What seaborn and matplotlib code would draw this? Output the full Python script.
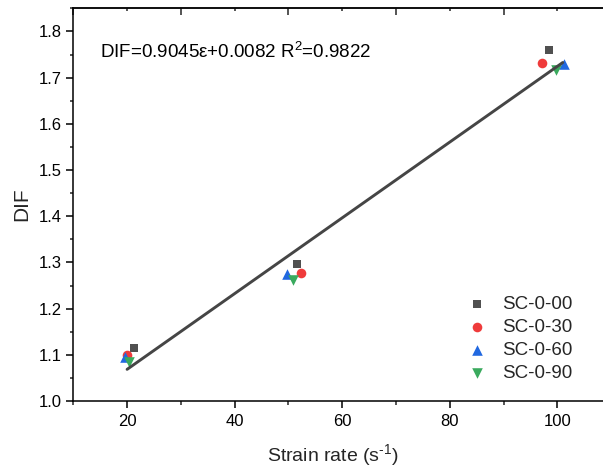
import matplotlib
matplotlib.use("Agg")
import matplotlib.pyplot as plt
from matplotlib.ticker import MultipleLocator
import seaborn as sns
import pandas as pd
import numpy as np

# ---- data ----
series_names = ["SC-0-00", "SC-0-30", "SC-0-60", "SC-0-90"]
x_sc000 = [21.3, 51.6, 98.4]
y_sc000 = [1.114, 1.297, 1.760]
x_sc030 = [20.0, 52.4, 97.2]
y_sc030 = [1.100, 1.277, 1.732]
x_sc060 = [19.7, 49.7, 101.3]
y_sc060 = [1.095, 1.275, 1.729]
x_sc090 = [20.4, 50.9, 99.8]
y_sc090 = [1.085, 1.262, 1.717]
fit_slope = 0.0082
fit_intercept = 0.9045
fit_x_range = [20.0, 101.0]
eq_text = "DIF=0.9045\u03b5+0.0082 R$^2$=0.9822"

sns.set_theme()
sns.set_style("ticks")
plt.rcParams["font.family"] = ["Liberation Sans", "DejaVu Sans"]
plt.rcParams["mathtext.fontset"] = "custom"
plt.rcParams["mathtext.rm"] = "Liberation Sans"
plt.rcParams["mathtext.it"] = "Liberation Sans:italic"
plt.rcParams["mathtext.default"] = "regular"

fig = plt.figure(figsize=(6.03, 4.72), dpi=100)
ax = fig.add_axes([73.3 / 603, 71 / 472, (611.2 - 73.3) / 603, (401 - 8.3) / 472])

xs = [x_sc000, x_sc030, x_sc060, x_sc090]
ys = [y_sc000, y_sc030, y_sc060, y_sc090]
colors = ["#505050", "#EF3B3B", "#2168E0", "#3AAA5E"]
markers = ["s", "o", "^", "v"]
sizes = [40, 48, 58, 58]

for name, xv, yv, c, m, s in zip(series_names, xs, ys, colors, markers, sizes):
    df = pd.DataFrame({"x": xv, "y": yv})
    sns.scatterplot(data=df, x="x", y="y", ax=ax, color=c, marker=m, s=s,
                    linewidth=0, label=name, zorder=3)

fx = np.array(fit_x_range)
fdf = pd.DataFrame({"x": fx, "y": fit_slope * fx + fit_intercept})
sns.lineplot(data=fdf, x="x", y="y", ax=ax, color="#454545", linewidth=2.1, zorder=4)

ax.set_xlim(10, 110)
ax.set_ylim(1.0, 1.85)
ax.xaxis.set_major_locator(MultipleLocator(20))
ax.xaxis.set_minor_locator(MultipleLocator(10))
ax.yaxis.set_major_locator(MultipleLocator(0.1))
ax.yaxis.set_minor_locator(MultipleLocator(0.05))
ax.set_xticks([20, 40, 60, 80, 100])
ax.set_yticks([1.0, 1.1, 1.2, 1.3, 1.4, 1.5, 1.6, 1.7, 1.8])
ax.set_yticklabels(["1.0", "1.1", "1.2", "1.3", "1.4", "1.5", "1.6", "1.7", "1.8"])

for sp in ax.spines.values():
    sp.set_linewidth(1.1)
    sp.set_color("black")
ax.spines["right"].set_visible(False)

ax.tick_params(axis="x", which="major", direction="out", length=5, width=1.1, labelsize=12, colors="black", pad=4)
ax.tick_params(axis="x", which="minor", direction="out", length=3, width=1.1)
ax.tick_params(axis="y", which="major", direction="out", length=4.8, width=1.1, labelsize=12, colors="black", pad=3.5)
ax.tick_params(axis="y", which="minor", direction="out", length=2, width=1.1)

sec = ax.secondary_xaxis("top")
sec.xaxis.set_major_locator(MultipleLocator(20))
sec.xaxis.set_minor_locator(MultipleLocator(10))
sec.tick_params(axis="x", which="major", direction="in", length=2.4, width=1.1, labeltop=False)
sec.tick_params(axis="x", which="minor", direction="in", length=4.8, width=1.1)
sec.spines["top"].set_linewidth(1.1)

ax.set_xlabel("Strain rate (s$^{\\text{-1}}$)", fontsize=14)
ax.set_ylabel("DIF", fontsize=15)
ax.xaxis.set_label_coords((333 - 73.3) / 537.9, -(442 - 401) / 392.7)
ax.yaxis.set_label_coords((31 - 73.3) / 537.9, 0.5)

ax.text(15.0, 1.743, eq_text, fontsize=13.5, va="baseline", ha="left", color="black")

leg = ax.legend(loc="center left", bbox_to_anchor=(467.7 / 603, 1 - 338.9 / 472),
                bbox_transform=fig.transFigure, frameon=False, fontsize=13.5,
                borderpad=0, borderaxespad=0, handlelength=1.0, handletextpad=0.85,
                labelspacing=0.3)

fig.savefig("out.png", dpi=100)
